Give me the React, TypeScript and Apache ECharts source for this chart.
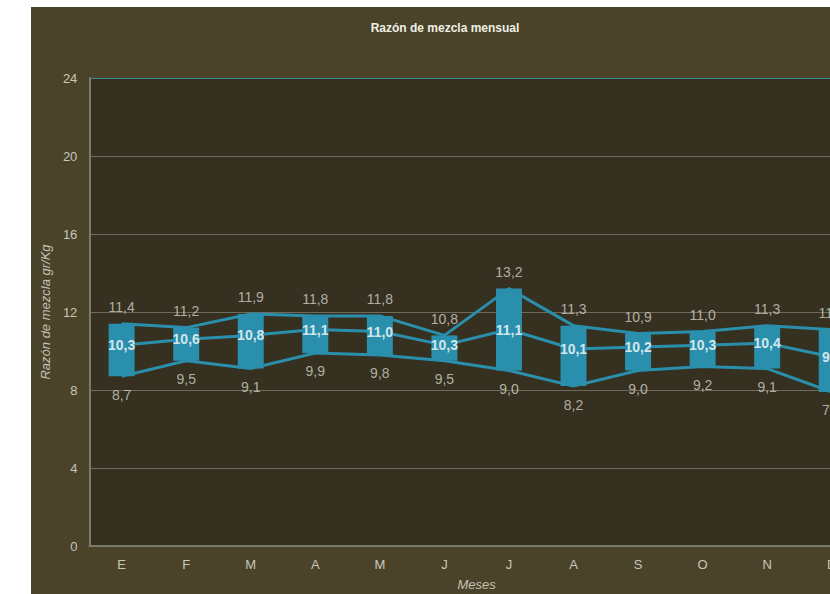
import React, { useEffect, useRef } from "react";
import * as echarts from "echarts";

const months = ["E", "F", "M", "A", "M", "J", "J", "A", "S", "O", "N", "D"];
const maxValues = [11.4, 11.2, 11.9, 11.8, 11.8, 10.8, 13.2, 11.3, 10.9, 11.0, 11.3, 11.1];
const meanValues = [10.3, 10.6, 10.8, 11.1, 11.0, 10.3, 11.1, 10.1, 10.2, 10.3, 10.4, 9.7];
const minValues = [8.7, 9.5, 9.1, 9.9, 9.8, 9.5, 9.0, 8.2, 9.0, 9.2, 9.1, 7.9];

const fmt = (v: number) => v.toFixed(1).replace(".", ",");

const TEAL = "#2a8fad";
const FONT = "'Liberation Sans', Arial, sans-serif";

export default function App() {
  const ref = useRef<HTMLDivElement>(null);
  useEffect(() => {
    if (!ref.current) return;
    const chart = echarts.init(ref.current, undefined, { renderer: "svg" });
    const range = maxValues.map((m, i) => +(m - minValues[i]).toFixed(2));
    const gridColor = "#6e6b5c";
    chart.setOption({
      animation: false,
      backgroundColor: "#4a4329",
      textStyle: { fontFamily: FONT },
      graphic: [
        {
          type: "text",
          x: 414,
          y: 21,
          style: {
            text: "Razón de mezcla mensual",
            fill: "#f0efe6",
            font: `bold 12px ${FONT}`,
            textAlign: "center",
            textVerticalAlign: "middle",
          },
        },
      ],
      grid: {
        left: 56,
        top: 71,
        right: 27,
        bottom: 61,
        show: true,
        backgroundColor: "#35301f",
        borderWidth: 0,
      },
      xAxis: {
        type: "category",
        data: months,
        name: "Meses",
        nameLocation: "middle",
        nameGap: 32,
        nameTextStyle: { color: "#c4c2b4", fontSize: 13, fontStyle: "italic", fontFamily: FONT },
        axisLine: { show: true, lineStyle: { color: "#7b7a6a", width: 2 } },
        axisTick: { show: false },
        axisLabel: { color: "#c8c6ba", fontSize: 13, margin: 12, fontFamily: FONT },
        splitLine: { show: false },
      },
      yAxis: {
        type: "value",
        min: 0,
        max: 24,
        interval: 4,
        name: "Razón de mezcla gr/Kg",
        nameLocation: "middle",
        nameGap: 37,
        nameTextStyle: { color: "#c4c2b4", fontSize: 13, fontStyle: "italic", fontFamily: FONT },
        axisLine: { show: true, lineStyle: { color: "#7b7a6a", width: 2 } },
        axisTick: { show: false },
        axisLabel: { color: "#c8c6ba", fontSize: 13, margin: 12, fontFamily: FONT },
        splitLine: {
          show: true,
          lineStyle: {
            color: [gridColor, gridColor, gridColor, gridColor, gridColor, gridColor, "#2f8a95"],
            width: 1,
          },
        },
      },
      series: [
        {
          type: "line",
          data: maxValues,
          z: 1,
          symbol: "none",
          lineStyle: { color: TEAL, width: 3 },
        },
        {
          type: "line",
          data: meanValues,
          z: 1,
          symbol: "none",
          lineStyle: { color: TEAL, width: 3 },
        },
        {
          type: "line",
          data: minValues,
          z: 1,
          symbol: "none",
          lineStyle: { color: TEAL, width: 3 },
        },
        {
          type: "bar",
          stack: "box",
          data: minValues,
          barWidth: 26,
          z: 2,
          itemStyle: { color: "transparent" },
          emphasis: { disabled: true },
        },
        {
          type: "bar",
          stack: "box",
          data: range,
          barWidth: 26,
          z: 2,
          itemStyle: { color: TEAL },
          emphasis: { disabled: true },
        },
        {
          type: "scatter",
          data: maxValues,
          z: 5,
          symbolSize: 1,
          itemStyle: { color: "transparent" },
          label: {
            show: true,
            position: "top",
            distance: 9,
            color: "#d2d0c6",
            fontSize: 14,
            fontFamily: FONT,
            formatter: (p: any) => fmt(p.value),
          },
        },
        {
          type: "scatter",
          data: minValues,
          z: 5,
          symbolSize: 1,
          itemStyle: { color: "transparent" },
          label: {
            show: true,
            position: "bottom",
            distance: 11,
            color: "#d2d0c6",
            fontSize: 14,
            fontFamily: FONT,
            formatter: (p: any) => fmt(p.value),
          },
        },
        {
          type: "scatter",
          data: meanValues,
          z: 5,
          symbolSize: 1,
          itemStyle: { color: "transparent" },
          label: {
            show: true,
            position: "inside",
            color: "#ffffff",
            fontSize: 14,
            fontWeight: "bold",
            fontFamily: FONT,
            formatter: (p: any) => fmt(p.value),
          },
        },
      ],
    });
    return () => chart.dispose();
  }, []);
  return (
    <div
      style={{
        position: "fixed",
        left: 0,
        top: 0,
        width: 830,
        height: 594,
        overflow: "hidden",
        background: "#ffffff",
      }}
    >
      <div ref={ref} style={{ position: "absolute", left: 31, top: 7, width: 860, height: 600 }} />
    </div>
  );
}
